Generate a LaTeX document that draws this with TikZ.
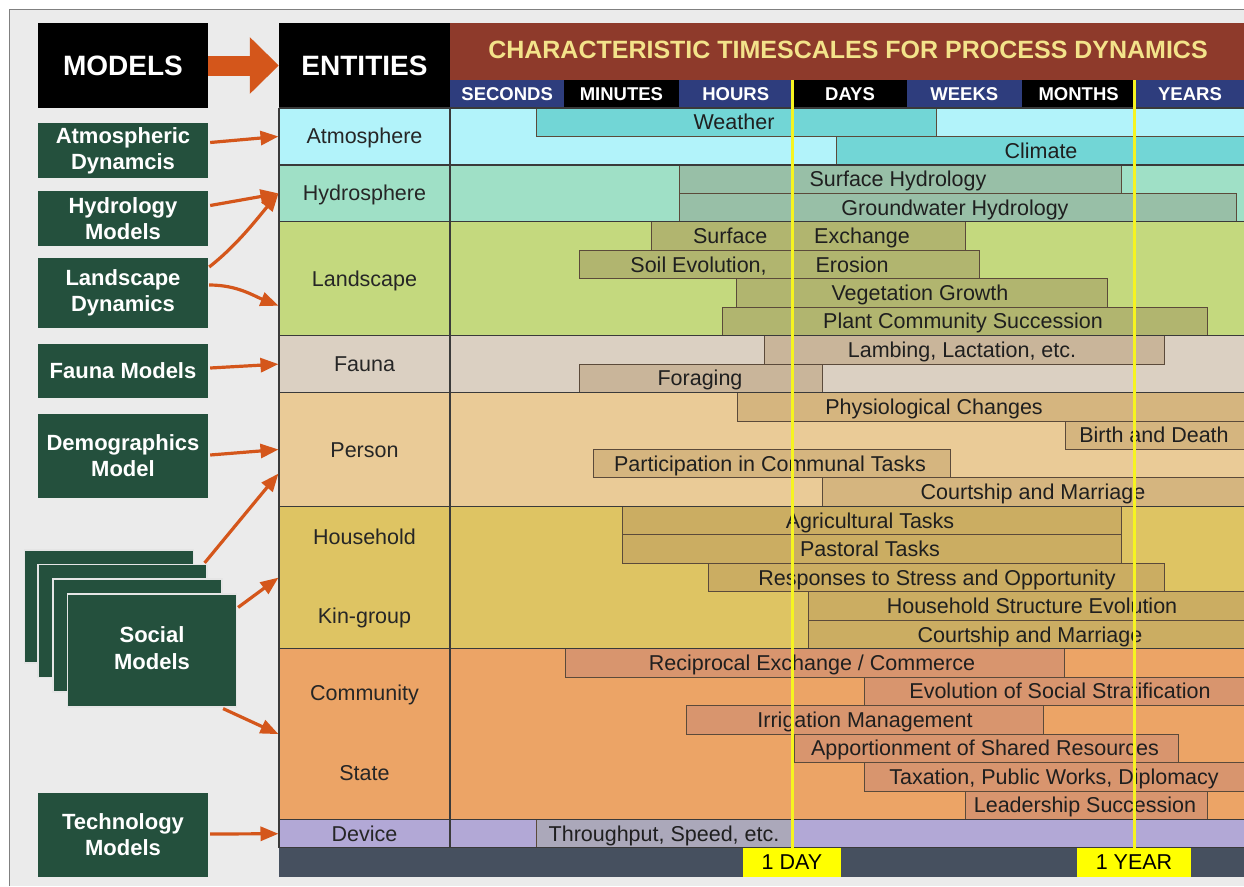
\documentclass[tikz,border=0pt]{standalone}
\usepackage{fontspec}
\setmainfont{Liberation Sans}
\usetikzlibrary{arrows.meta,calc}
\definecolor{bggray}{HTML}{EBEBEB}
\definecolor{mgreen}{HTML}{24503D}
\definecolor{arrcol}{HTML}{D4561B}
\definecolor{tbrown}{HTML}{8E3A2B}
\definecolor{ttext}{HTML}{F3E38A}
\definecolor{tblue}{HTML}{2E3D7D}
\definecolor{catmo}{HTML}{B2F3FA}\definecolor{batmo}{HTML}{72D6D6}
\definecolor{chydro}{HTML}{9FE0C6}\definecolor{bhydro}{HTML}{98BFA7}
\definecolor{cland}{HTML}{C4D97E}\definecolor{bland}{HTML}{B1B56F}
\definecolor{cfauna}{HTML}{DBD0C2}\definecolor{bfauna}{HTML}{C9B59A}
\definecolor{cperson}{HTML}{EACB97}\definecolor{bperson}{HTML}{D5B57F}
\definecolor{chouse}{HTML}{DEC463}\definecolor{bhouse}{HTML}{CBAD62}
\definecolor{ccomm}{HTML}{ECA466}\definecolor{bcomm}{HTML}{D8956E}
\definecolor{cdevice}{HTML}{B2A8D6}\definecolor{bdevice}{HTML}{ABA8BA}
\definecolor{botbar}{HTML}{46505F}
\definecolor{yline}{HTML}{F6F420}
\definecolor{ylab}{HTML}{FFFF00}
\definecolor{secline}{HTML}{3A3A3A}
\definecolor{barline}{HTML}{5B4A3A}
\newcommand\tbar[7]{%
  \fill[#6] (#3,{108+#2*28.46}) rectangle (#4,{108+(#2+1)*28.46});
  \draw[barborder] (#3,{108+#2*28.46}) rectangle (#4,{108+(#2+1)*28.46});
  \node[bartext] (#1) at (#5,{108+(#2+0.5)*28.46}) {#7};}
\begin{document}
\begin{tikzpicture}[x=1pt,y=-1pt,
  modelbox/.style={fill=mgreen,text=white,font=\bfseries\fontsize{22}{26}\selectfont,align=center,minimum width=170pt,inner sep=0pt},
  headbox/.style={fill=black,text=white,font=\bfseries\fontsize{28}{32}\selectfont,minimum height=85pt,inner sep=0pt},
  cell/.style={draw=secline,line width=1pt,minimum width=171pt,inner sep=0pt,font=\fontsize{21.5}{26}\selectfont,text=black!85,text height=17.5pt,text depth=2.5pt},
  elabel/.style={inner sep=0pt,font=\fontsize{21.5}{26}\selectfont,text=black!85,text height=17.5pt,text depth=2.5pt},
  tcell/.style={text=white,font=\bfseries\fontsize{18.5}{22}\selectfont,minimum width=114.3pt,minimum height=28pt,inner sep=0pt},
  bartext/.style={font=\fontsize{21.5}{24}\selectfont,inner sep=0pt,text height=17.5pt,text depth=2.5pt,text=black!88},
  barborder/.style={draw=barline,line width=1pt},
  sline/.style={draw=secline,line width=1.2pt},
  conn/.style={draw=arrcol,line width=3.2pt,-{Triangle[length=18pt,width=14pt]}},
  ylinestyle/.style={draw=yline,line width=3pt},
  ylabel/.style={fill=ylab,text=black,font=\fontsize{21.5}{24}\selectfont,minimum height=29pt,inner sep=0pt},
  stack/.style={fill=mgreen,draw=white!80!gray,line width=1.2pt,minimum width=169pt,minimum height=113pt,inner sep=0pt}]
\useasboundingbox (0,0) rectangle (1244,886);
\fill[white] (0,0) rectangle (1244,886);
\fill[bggray] (9,9) rectangle (1244,886);
\draw[gray,line width=1pt] (9,886) -- (9,9) -- (1244,9);
% section backgrounds
\fill[catmo] (279,108) rectangle (1244,164.92);
\fill[chydro] (279,164.92) rectangle (1244,221.84);
\fill[cland] (279,221.84) rectangle (1244,335.68);
\fill[cfauna] (279,335.68) rectangle (1244,392.6);
\fill[cperson] (279,392.6) rectangle (1244,506.44);
\fill[chouse] (279,506.44) rectangle (1244,648.74);
\fill[ccomm] (279,648.74) rectangle (1244,819.5);
\fill[cdevice] (279,819.5) rectangle (1244,847.96);
% header
\node[headbox,minimum width=170pt] (models) at (123,65.5) {MODELS};
\node[headbox,minimum width=171pt] (entities) at (364.5,65.5) {ENTITIES};
\fill[tbrown] (450,23) rectangle (1244,80);
\node[font=\bfseries\fontsize{25}{30}\selectfont,text=ttext,inner sep=0pt] (title) at (848,50) {CHARACTERISTIC TIMESCALES FOR PROCESS DYNAMICS};
\node[tcell,fill=tblue] (sec) at (507.15,94) {SECONDS};
\node[tcell,fill=black] (min) at (621.45,94) {MINUTES};
\node[tcell,fill=tblue] (hrs) at (735.75,94) {HOURS};
\node[tcell,fill=black] (days) at (850.05,94) {DAYS};
\node[tcell,fill=tblue] (wks) at (964.35,94) {WEEKS};
\node[tcell,fill=black] (mon) at (1078.65,94) {MONTHS};
\node[tcell,fill=tblue,minimum width=108pt] (yrs) at (1190,94) {YEARS};
\draw[arrcol,line width=20pt,-{Triangle[length=29pt,width=55pt]}] (models.east) -- (entities.west);
% entity cells
\node[cell,fill=catmo,minimum height=56.92pt] (atmo) at (364.5,136.46) {Atmosphere};
\node[cell,fill=chydro,minimum height=56.92pt] (hydro) at (364.5,193.38) {Hydrosphere};
\node[cell,fill=cland,minimum height=113.84pt] (land) at (364.5,278.76) {Landscape};
\node[cell,fill=cfauna,minimum height=56.92pt] (fauna) at (364.5,364.14) {Fauna};
\node[cell,fill=cperson,minimum height=113.84pt] (person) at (364.5,449.52) {Person};
\node[cell,fill=chouse,minimum height=142.3pt] (house) at (364.5,577.59) {};
\node[elabel] (hhl) at (364.5,537) {Household};
\node[elabel] (kinl) at (364.5,616) {Kin-group};
\node[cell,fill=ccomm,minimum height=170.76pt] (comm) at (364.5,734.12) {};
\node[elabel] (comml) at (364.5,693) {Community};
\node[elabel] (statel) at (364.5,773) {State};
\node[cell,fill=cdevice,minimum height=28.46pt] (device) at (364.5,833.73) {Device};
% bars
\tbar{weather}{0}{536}{936}{734}{batmo}{Weather}
\tbar{climate}{1}{836}{1250}{1041}{batmo}{Climate}
\tbar{surfhyd}{2}{679}{1121}{898}{bhydro}{Surface Hydrology}
\tbar{gwhyd}{3}{679}{1236}{955}{bhydro}{Groundwater Hydrology}
\tbar{surfex}{4}{651}{965}{801.5}{bland}{Surface\hspace{47pt}Exchange}
\tbar{soil}{5}{579}{979}{759.5}{bland}{Soil Evolution,\hspace{49pt}Erosion}
\tbar{veg}{6}{736}{1107}{920}{bland}{Vegetation Growth}
\tbar{plant}{7}{722}{1207}{963}{bland}{Plant Community Succession}
\tbar{lamb}{8}{764}{1164}{962}{bfauna}{Lambing, Lactation, etc.}
\tbar{forage}{9}{579}{822}{700}{bfauna}{Foraging}
\tbar{phys}{10}{737}{1250}{934}{bperson}{Physiological Changes}
\tbar{birth}{11}{1065}{1250}{1154}{bperson}{Birth and Death}
\tbar{partic}{12}{593}{950}{770}{bperson}{Participation in Communal Tasks}
\tbar{court}{13}{822}{1250}{1033}{bperson}{Courtship and Marriage}
\tbar{agri}{14}{622}{1121}{870}{bhouse}{Agricultural Tasks}
\tbar{past}{15}{622}{1121}{870}{bhouse}{Pastoral Tasks}
\tbar{resp}{16}{708}{1164}{937}{bhouse}{Responses to Stress and Opportunity}
\tbar{hse}{17}{808}{1250}{1032}{bhouse}{Household Structure Evolution}
\tbar{courthh}{18}{808}{1250}{1030}{bhouse}{Courtship and Marriage}
\tbar{recip}{19}{565}{1064}{812}{bcomm}{Reciprocal Exchange / Commerce}
\tbar{strat}{20}{864}{1250}{1060}{bcomm}{Evolution of Social Stratification}
\tbar{irrig}{21}{686}{1043}{865}{bcomm}{Irrigation Management}
\tbar{apport}{22}{794}{1178}{985}{bcomm}{Apportionment of Shared Resources}
\tbar{tax}{23}{864}{1250}{1054}{bcomm}{Taxation, Public Works, Diplomacy}
\tbar{lead}{24}{965}{1207}{1085}{bcomm}{Leadership Succession}
\tbar{through}{25}{536}{793}{664}{bdevice}{Throughput, Speed, etc.}
% section lines
\foreach \yy in {108,164.92,221.84,335.68,392.6,506.44,648.74,819.5,847.96}
  \draw[sline] (279,\yy) -- (1244,\yy);
\draw[sline] (450,108) -- (450,848);
\draw[sline] (279,108) -- (279,848);
% bottom bar
\fill[botbar] (279,848) rectangle (1244,877);
% yellow lines and labels
\node[ylabel,minimum width=98pt] (oneday) at (792,862.5) {1 DAY};
\node[ylabel,minimum width=114pt] (oneyear) at (1134,862.5) {1 YEAR};
\coordinate (daytop) at (792,80);
\coordinate (yeartop) at (1134,80);
\draw[ylinestyle] (daytop) -- (oneday.north);
\draw[ylinestyle] (yeartop) -- (oneyear.north);
% model boxes
\node[modelbox,minimum height=55pt] (atm) at (123,150.5) {Atmospheric\\Dynamcis};
\node[modelbox,minimum height=55pt] (hyd) at (123,218.5) {Hydrology\\Models};
\node[modelbox,minimum height=70pt] (lan) at (123,293) {Landscape\\Dynamics};
\node[modelbox,minimum height=54pt] (fau) at (123,371) {Fauna Models};
\node[modelbox,minimum height=84pt] (dem) at (123,456) {Demographics\\Model};
\node[stack] (soc4) at (109,606.5) {};
\node[stack] (soc3) at (122.5,621) {};
\node[stack] (soc2) at (137.5,635.5) {};
\node[stack] (soc1) at (152,650.5) {};
\node[text=white,font=\bfseries\fontsize{22}{27}\selectfont,align=center,inner sep=0pt] (soctext) at (152,648) {Social\\Models};
\node[modelbox,minimum height=84pt] (tec) at (123,835) {Technology\\Models};
% connectors
\draw[conn] ($(atm.east)+(2,-8)$) -- (atmo.west);
\draw[conn] ($(hyd.east)+(2,-13)$) -- (hydro.west);
\draw[conn] ($(lan.east)+(1,-26)$) .. controls +(28,-22) and +(-22,26) .. (hydro.west);
\draw[conn] ($(lan.east)+(1,-8)$) .. controls +(28,0) and +(-25,-10) .. ($(land.west)+(0,27)$);
\draw[conn] ($(fau.east)+(2,-3)$) -- (fauna.west);
\draw[conn] ($(dem.east)+(2,-1)$) -- (person.west);
\draw[conn] ($(soc3.north east)+(-3,-1)$) -- ($(person.west)+(0,24)$);
\draw[conn] ($(soc1.north east)+(1,14)$) -- (house.west);
\draw[conn] ($(soc1.south east)+(-14,1)$) -- (comm.west);
\draw[conn] ($(tec.east)+(2,-1)$) -- (device.west);
\end{tikzpicture}
\end{document}
